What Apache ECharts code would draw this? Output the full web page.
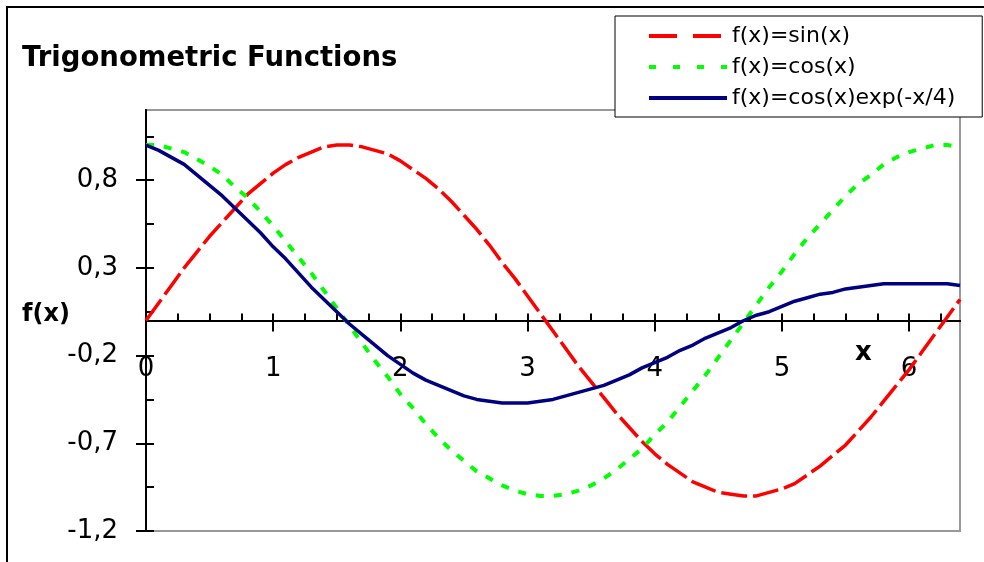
<!DOCTYPE html>
<html>
<head>
<meta charset="utf-8">
<script src="https://cdn.jsdelivr.net/npm/echarts@6/dist/echarts.min.js"></script>
<style>
  html, body { margin: 0; padding: 0; background: #fff; }
  #chart { width: 984px; height: 562px; }
</style>
</head>
<body>
<div id="chart"></div>
<script>
// x 取值 0 ~ 6.4，步长 0.1
let xs = [0, 0.1, 0.2, 0.3, 0.4, 0.5, 0.6, 0.7, 0.8, 0.9, 1, 1.1, 1.2, 1.3, 1.4, 1.5, 1.6, 1.7, 1.8, 1.9,
  2, 2.1, 2.2, 2.3, 2.4, 2.5, 2.6, 2.7, 2.8, 2.9, 3, 3.1, 3.2, 3.3, 3.4, 3.5, 3.6, 3.7, 3.8, 3.9,
  4, 4.1, 4.2, 4.3, 4.4, 4.5, 4.6, 4.7, 4.8, 4.9, 5, 5.1, 5.2, 5.3, 5.4, 5.5, 5.6, 5.7, 5.8, 5.9,
  6, 6.1, 6.2, 6.3, 6.4]
// 数值
let sinVals = [0.00, 0.10, 0.20, 0.30, 0.39, 0.48, 0.56, 0.64, 0.72, 0.78, 0.84, 0.89, 0.93, 0.96, 0.99, 1.00, 1.00, 0.99, 0.97, 0.95,
  0.91, 0.86, 0.81, 0.75, 0.68, 0.60, 0.52, 0.43, 0.33, 0.24, 0.14, 0.04, -0.06, -0.16, -0.26, -0.35, -0.44, -0.53, -0.61, -0.69,
  -0.76, -0.82, -0.87, -0.92, -0.95, -0.98, -0.99, -1.00, -1.00, -0.98, -0.96, -0.93, -0.88, -0.83, -0.77, -0.71, -0.63, -0.55, -0.46, -0.37,
  -0.28, -0.18, -0.08, 0.02, 0.12]
let cosVals = [1.00, 1.00, 0.98, 0.96, 0.92, 0.88, 0.83, 0.76, 0.70, 0.62, 0.54, 0.45, 0.36, 0.27, 0.17, 0.07, -0.03, -0.13, -0.23, -0.32,
  -0.42, -0.50, -0.59, -0.67, -0.74, -0.80, -0.86, -0.90, -0.94, -0.97, -0.99, -1.00, -1.00, -0.99, -0.97, -0.94, -0.90, -0.85, -0.79, -0.73,
  -0.65, -0.58, -0.49, -0.40, -0.31, -0.21, -0.11, -0.01, 0.09, 0.19, 0.28, 0.38, 0.47, 0.55, 0.63, 0.71, 0.78, 0.83, 0.89, 0.93,
  0.96, 0.98, 1.00, 1.00, 0.99]
let dampVals = [1.00, 0.97, 0.93, 0.89, 0.83, 0.77, 0.71, 0.64, 0.57, 0.50, 0.42, 0.35, 0.27, 0.19, 0.12, 0.05, -0.02, -0.08, -0.14, -0.20,
  -0.25, -0.30, -0.34, -0.37, -0.40, -0.43, -0.45, -0.46, -0.47, -0.47, -0.47, -0.46, -0.45, -0.43, -0.41, -0.39, -0.37, -0.34, -0.31, -0.27,
  -0.24, -0.21, -0.17, -0.14, -0.10, -0.07, -0.04, 0.00, 0.03, 0.05, 0.08, 0.11, 0.13, 0.15, 0.16, 0.18, 0.19, 0.20, 0.21, 0.21,
  0.21, 0.21, 0.21, 0.21, 0.20]
let names = ['f(x)=sin(x)', 'f(x)=cos(x)', 'f(x)=cos(x)exp(-x/4)']
// 刻度
let xLabelVals = [0, 1, 2, 3, 4, 5, 6]
let xMinorVals = [0.25, 0.5, 0.75, 1, 1.25, 1.5, 1.75, 2, 2.25, 2.5, 2.75, 3, 3.25, 3.5, 3.75, 4, 4.25, 4.5, 4.75, 5, 5.25, 5.5, 5.75, 6, 6.25]
let yLabelVals = [-1.2, -0.7, -0.2, 0.3, 0.8]
let yMinorVals = [-1.2, -0.95, -0.7, -0.45, -0.2, 0.05, 0.3, 0.55, 0.8, 1.05]

function pairs(vals) {
  return xs.map(function (x, i) { return [x, vals[i]] })
}

let font = 'DejaVu Sans'
let myChart = echarts.init(document.getElementById('chart'), null, { renderer: 'canvas' })

// 图表区域
let gridTop = 110
let gridBottom = 31
let plotH = 562 - gridTop - gridBottom
// 第二条 x 轴只能用 offset 移到 y=0 处
let zeroOffset = -plotH * 1.2 / 2.4

let option = {
  backgroundColor: '#fff',
  animation: false,
  title: {
    text: 'Trigonometric Functions',
    left: 17,
    top: 40,
    textStyle: { fontFamily: font, fontWeight: 'bold', fontSize: 27.5, color: '#000' }
  },
  legend: {
    orient: 'vertical',
    left: 615,
    top: 16,
    padding: [9, 27, 8, 32],
    itemGap: 9,
    itemWidth: 78,
    itemHeight: 14,
    itemTextGap: 0,
    borderColor: '#000',
    borderWidth: 1,
    backgroundColor: '#fff',
    itemStyle: { opacity: 0 },
    textStyle: { fontFamily: font, fontSize: 22, color: '#000' },
    data: [
      { name: names[0], lineStyle: { type: [28, 16], width: 4 } },
      { name: names[1], lineStyle: { type: [7, 17], width: 4 } },
      { name: names[2], lineStyle: { type: 'solid', width: 4 } }
    ]
  },
  grid: { left: 146, right: 24, top: gridTop, bottom: gridBottom, show: true, borderColor: '#999', borderWidth: 2 },
  xAxis: [
    {
      type: 'value', min: 0, max: 6.4, position: 'bottom',
      axisLine: { onZero: true, lineStyle: { color: '#000', width: 2 } },
      axisTick: { inside: true, length: 7, customValues: xMinorVals, lineStyle: { color: '#000', width: 2 } },
      axisLabel: { show: false },
      splitLine: { show: false }
    },
    {
      type: 'value', min: 0, max: 6.4, position: 'bottom', offset: zeroOffset,
      axisLine: { onZero: false, lineStyle: { color: '#000', width: 2 } },
      axisTick: { inside: false, length: 11, customValues: xLabelVals, lineStyle: { color: '#000', width: 2 } },
      axisLabel: { customValues: xLabelVals, margin: 36, fontFamily: font, fontSize: 26, color: '#000' },
      splitLine: { show: false }
    }
  ],
  yAxis: [
    {
      type: 'value', min: -1.2, max: 1.2, position: 'left',
      axisLine: { show: true, onZero: false, lineStyle: { color: '#000', width: 2 } },
      axisTick: { inside: true, length: 8, customValues: yMinorVals, lineStyle: { color: '#000', width: 2 } },
      axisLabel: { show: false },
      splitLine: { show: false }
    },
    {
      type: 'value', min: -1.2, max: 1.2, position: 'left',
      axisLine: { show: true, onZero: false, lineStyle: { color: '#000', width: 2 } },
      axisTick: { inside: false, length: 10, customValues: yLabelVals, lineStyle: { color: '#000', width: 2 } },
      axisLabel: {
        customValues: yLabelVals, margin: 28, fontFamily: font, fontSize: 26, color: '#000',
        formatter: function (v) { return v.toFixed(1).replace('.', ',') }
      },
      splitLine: { show: false }
    }
  ],
  graphic: [
    // 外框
    { type: 'rect', shape: { x: 7, y: 7, width: 1200, height: 800 }, style: { fill: 'none', stroke: '#000', lineWidth: 2 }, silent: true },
    { type: 'text', left: 22, top: 303, style: { text: 'f(x)', fontFamily: font, fontWeight: 'bold', fontSize: 24, fill: '#000' } },
    { type: 'text', left: 855, top: 340, style: { text: 'x', fontFamily: font, fontWeight: 'bold', fontSize: 26, fill: '#000' } }
  ],
  series: [
    {
      name: names[0], type: 'line', data: pairs(sinVals), symbol: 'none', z: 3,
      lineStyle: { color: '#ff0000', width: 3.5, type: [26, 6] }, itemStyle: { color: '#ff0000' }
    },
    {
      name: names[1], type: 'line', data: pairs(cosVals), symbol: 'none', z: 3,
      lineStyle: { color: '#00ff00', width: 4, type: [8, 10] }, itemStyle: { color: '#00ff00' }
    },
    {
      name: names[2], type: 'line', data: pairs(dampVals), symbol: 'none', z: 4,
      lineStyle: { color: '#000080', width: 3.5 }, itemStyle: { color: '#000080' }
    }
  ]
}
myChart.setOption(option)
</script>
</body>
</html>
